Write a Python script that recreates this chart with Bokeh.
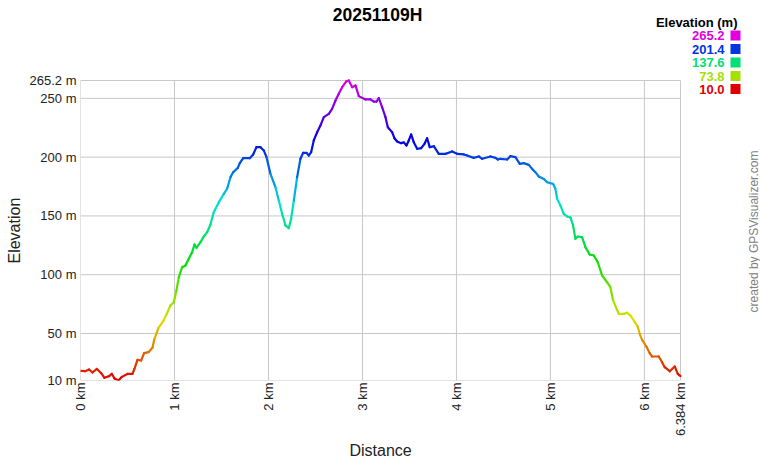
import colorsys
import math
from bokeh.plotting import figure
from bokeh.models import Range1d, FixedTicker, Label, ColumnDataSource, Title
from bokeh.transform import linear_cmap
from bokeh.core.properties import value
from bokeh.embed import file_html
from bokeh.resources import INLINE

title_text = "20251109H"
x_axis_title = "Distance"
y_axis_title = "Elevation"
credit_text = "created by GPSVisualizer.com"
legend_title = "Elevation (m)"

distance_km = [
    0.0, 0.05, 0.092, 0.128, 0.174, 0.22, 0.255, 0.305, 0.333, 0.362, 0.404, 0.44,
    0.503, 0.553, 0.574, 0.606, 0.645, 0.677, 0.723, 0.766, 0.787, 0.83, 0.883,
    0.918, 0.957, 0.993, 1.021, 1.046, 1.082, 1.117, 1.152, 1.188, 1.213, 1.234,
    1.277, 1.312, 1.348, 1.383, 1.418, 1.472, 1.525, 1.56, 1.596, 1.624, 1.674,
    1.695, 1.731, 1.801, 1.837, 1.872, 1.915, 1.95, 1.979, 2.021, 2.074, 2.11,
    2.145, 2.181, 2.216, 2.241, 2.27, 2.305, 2.34, 2.369, 2.404, 2.429, 2.454,
    2.482, 2.518, 2.553, 2.589, 2.642, 2.677, 2.713, 2.748, 2.784, 2.83, 2.855,
    2.891, 2.926, 2.961, 3.032, 3.085, 3.12, 3.149, 3.174, 3.209, 3.245, 3.27,
    3.316, 3.34, 3.369, 3.411, 3.44, 3.468, 3.493, 3.518, 3.546, 3.582, 3.624,
    3.66, 3.688, 3.716, 3.759, 3.812, 3.883, 3.954, 4.007, 4.078, 4.113, 4.184,
    4.238, 4.273, 4.362, 4.415, 4.44, 4.468, 4.539, 4.574, 4.628, 4.674, 4.716,
    4.77, 4.805, 4.84, 4.876, 4.929, 4.965, 5.028, 5.053, 5.071, 5.106, 5.142,
    5.177, 5.213, 5.241, 5.266, 5.291, 5.337, 5.372, 5.418, 5.461, 5.504, 5.55,
    5.603, 5.638, 5.667, 5.727, 5.78, 5.816, 5.851, 5.894, 5.929, 5.95, 5.975,
    6.021, 6.057, 6.082, 6.152, 6.188, 6.216, 6.27, 6.323, 6.355, 6.384,
]
elevation_m = [
    18.2, 17.9, 19.4, 16.8, 19.9, 16.2, 12.3, 13.7, 15.7, 11.7, 10.0, 13.1,
    15.7, 15.7, 19.9, 27.6, 27.0, 33.3, 34.1, 37.8, 45.5, 54.8, 61.0,
    66.7, 73.8, 76.6, 86.6, 97.9, 106.4, 107.8, 113.5, 119.2, 125.7, 122.9,
    127.7, 132.5, 136.2, 142.7, 153.2, 161.7, 168.8, 173.1, 183.0, 187.2, 190.9,
    194.9, 199.1, 199.1, 202.3, 208.5, 208.5, 205.7, 200.0, 185.8, 174.5, 163.1,
    151.8, 141.9, 139.6, 147.6, 163.1, 183.0, 198.6, 203.7, 203.7, 201.4, 204.2,
    214.2, 221.2, 226.9, 234.0, 236.8, 241.1, 248.2, 253.9, 259.5, 264.6, 265.2,
    259.5, 261.0, 251.9, 249.1, 249.1, 247.3, 247.3, 250.2, 242.5, 234.0, 225.5,
    221.2, 216.1, 213.3, 211.9, 212.6, 209.9, 214.2, 219.3, 212.7, 207.1, 207.6,
    211.3, 216.1, 208.5, 209.3, 202.8, 202.8, 204.8, 202.8, 202.3, 201.4, 199.4,
    200.6, 198.6, 200.6, 199.4, 198.0, 198.6, 198.0, 200.8, 200.0, 194.3, 194.9,
    193.4, 190.0, 187.2, 183.5, 181.5, 178.7, 177.3, 173.1, 164.6, 158.9, 151.8,
    149.5, 148.7, 141.9, 130.5, 132.5, 132.0, 123.4, 117.2, 116.3, 110.6, 99.3,
    93.6, 89.4, 78.1, 66.7, 66.7, 67.6, 65.3, 60.2, 55.9, 49.7, 44.6,
    38.9, 33.2, 30.4, 30.4, 25.6, 21.3, 17.9, 21.9, 15.7, 13.7,
]

x_ticks = [0, 1, 2, 3, 4, 5, 6, 6.384]
x_tick_labels = ["0 km", "1 km", "2 km", "3 km", "4 km", "5 km", "6 km", "6.384 km"]
y_ticks = [10, 50, 100, 150, 200, 250, 265.2]
y_tick_labels = ["10 m", "50 m", "100 m", "150 m", "200 m", "250 m", "265.2 m"]
legend_values = [265.2, 201.4, 137.6, 73.8, 10.0]
legend_labels = ["265.2", "201.4", "137.6", "73.8", "10.0"]

E_MIN, E_MAX = 10.0, 265.2
D_MAX = 6.384

# rainbow palette: hue red -> magenta
palette = []
for i in range(256):
    r, g, b = colorsys.hsv_to_rgb((300.0 * i / 255.0) / 360.0, 1.0, 0.88)
    palette.append("#%02x%02x%02x" % (round(r * 255), round(g * 255), round(b * 255)))
cmap = lambda field: linear_cmap(field, palette, E_MIN, E_MAX)

FONT = "Liberation Sans"
W, H = 760, 460
# plotted data area (page pixels)
PL, PR, PT, PB = 80, 680, 80, 380
# frame covers the whole canvas right of / above the axes
FW, FH = W - PL, PB
X_END = D_MAX * (FW / (PR - PL))
Y_END = E_MIN + (E_MAX - E_MIN) * (FH / (PB - PT))

p = figure(width=W, height=H, frame_width=FW, frame_height=FH, title=None,
           output_backend="svg", toolbar_location=None,
           x_range=Range1d(0, X_END), y_range=Range1d(E_MIN, Y_END),
           min_border_left=PL, min_border_right=0, min_border_top=0, min_border_bottom=H - PB,
           background_fill_color="white", border_fill_color="white")
p.outline_line_color = None
p.grid.visible = False

def dx(px):
    return (px - PL) / (PR - PL) * D_MAX

def dy(py):
    return E_MIN + (PB - py) / (PB - PT) * (E_MAX - E_MIN)

# grid / frame lines at the tick values
GRID = "#c8c8c8"
p.segment(x0=x_ticks, x1=x_ticks, y0=[E_MIN] * len(x_ticks), y1=[E_MAX] * len(x_ticks),
          line_color=GRID, line_width=1)
p.segment(x0=[0] * len(y_ticks), x1=[D_MAX] * len(y_ticks), y0=y_ticks, y1=y_ticks,
          line_color=GRID, line_width=1)

src = ColumnDataSource(dict(
    x0=distance_km[:-1], x1=distance_km[1:],
    y0=elevation_m[:-1], y1=elevation_m[1:],
    em=[(a + b) / 2 for a, b in zip(elevation_m[:-1], elevation_m[1:])],
))
p.segment("x0", "y0", "x1", "y1", source=src, line_width=2.2, line_cap="round",
          color=cmap("em"))

for ax in (p.xaxis[0], p.yaxis[0]):
    ax.axis_line_color = None
    ax.major_tick_out = 0
    ax.major_tick_in = 0
    ax.minor_tick_out = 0
    ax.minor_tick_in = 0
    ax.major_label_text_font = FONT
    ax.major_label_text_font_size = "13px"
    ax.major_label_text_color = "#222222"

p.xaxis.bounds = (0, D_MAX)
p.xaxis.ticker = FixedTicker(ticks=x_ticks)
p.xaxis.major_label_overrides = {t: l for t, l in zip(x_ticks, x_tick_labels)}
p.xaxis.major_label_orientation = math.pi / 2
p.xaxis.major_label_standoff = 2

p.yaxis.bounds = (E_MIN, E_MAX)
p.yaxis.ticker = FixedTicker(ticks=y_ticks)
p.yaxis.major_label_overrides = {t: l for t, l in zip(y_ticks, y_tick_labels)}
p.yaxis.major_label_standoff = 4

# axis titles centred on the data area (left-aligned titles shifted by offset)
X_TITLE_W = 62.0   # approx. text width of "Distance" at 16px
Y_TITLE_W = 66.0   # approx. text width of "Elevation" at 16px
x_off = (PL + PR) / 2 - X_TITLE_W / 2 - PL
y_off = PB - ((PT + PB) / 2 + Y_TITLE_W / 2)
p.add_layout(Title(text=x_axis_title, align="left", vertical_align="middle", offset=x_off,
                   standoff=4, text_font=FONT, text_font_size="16px",
                   text_font_style="normal", text_color="#222222"), "below")
p.add_layout(Title(text=y_axis_title, align="left", vertical_align="middle", offset=y_off,
                   standoff=6, text_font=FONT, text_font_size="16px",
                   text_font_style="normal", text_color="#222222"), "left")

def lab(px, py, text, size, color="#000000", bold=False, align="center", angle=0.0):
    p.add_layout(Label(x=dx(px), y=dy(py), text=text, text_font=FONT,
                       text_font_size=size, text_color=color,
                       text_font_style="bold" if bold else "normal",
                       text_align=align, text_baseline="middle", angle=angle))

lab(377, 14, title_text, "17.5px", bold=True)
lab(753, 231, credit_text, "12px", color="#808080", angle=math.pi / 2)
lab(737, 22, legend_title, "13px", bold=True, align="right")

rows_px = [35, 48.5, 62, 75.5, 88.5]
leg = ColumnDataSource(dict(
    xt=[dx(724)] * len(legend_values), xs=[dx(735)] * len(legend_values),
    y=[dy(r) for r in rows_px], v=legend_values, t=legend_labels,
))
p.text(x="xt", y="y", text="t", source=leg, text_align="right", text_baseline="middle",
       text_font=value(FONT), text_font_size="13px", text_font_style="bold",
       text_color=cmap("v"))
p.scatter(x="xs", y="y", source=leg, marker="square", size=10, line_color=None,
          fill_color=cmap("v"))

open("out.html", "w").write(file_html(p, INLINE))
